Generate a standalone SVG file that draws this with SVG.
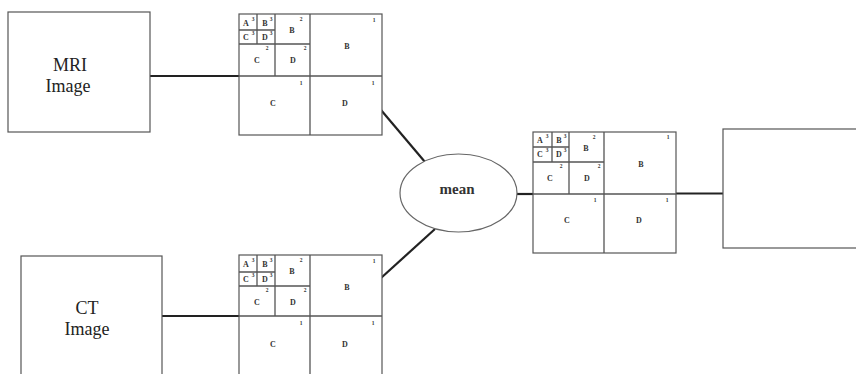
<svg xmlns="http://www.w3.org/2000/svg" width="856" height="374" viewBox="0 0 856 374">
<style>
.box{fill:#fff;stroke:#555;stroke-width:1.2}
.grid{fill:none;stroke:#555;stroke-width:1.3}
.conn{stroke:#222;stroke-width:2.2;fill:none}
.big{font-family:"Liberation Serif",serif;font-size:18px;fill:#222;text-anchor:middle}
.mean{font-family:"Liberation Serif",serif;font-size:15px;fill:#333;text-anchor:middle;font-weight:bold}
.lt{font-family:"Liberation Serif",serif;font-size:8px;fill:#333;text-anchor:middle;font-weight:bold}
.sup{font-family:"Liberation Serif",serif;font-size:5.5px;fill:#333;text-anchor:middle;font-weight:bold}
</style>
<rect width="856" height="374" fill="#fff"/>
<g id="connectors">
<line class="conn" x1="150" y1="76" x2="239" y2="76"/>
<line class="conn" x1="162" y1="316" x2="239" y2="316"/>
<line class="conn" x1="381" y1="110" x2="425" y2="162"/>
<line class="conn" x1="381" y1="278" x2="435" y2="229"/>
<line class="conn" x1="517" y1="194" x2="533" y2="194"/>
<line class="conn" x1="676" y1="193.5" x2="723" y2="193.5"/>
</g>
<g id="mri">
<rect class="box" x="8" y="12" width="142" height="120"/>
<text class="big" x="70" y="71">MRI</text>
<text class="big" x="68" y="92">Image</text>
</g>
<g id="ct">
<rect class="box" x="21" y="256" width="141" height="130"/>
<text class="big" x="87" y="314">CT</text>
<text class="big" x="87" y="335">Image</text>
</g>
<g id="mean">
<ellipse cx="458.5" cy="193" rx="58.5" ry="39" fill="#fff" stroke="#666" stroke-width="1.2"/>
<text class="mean" x="457" y="194">mean</text>
</g>
<g id="output">
<rect class="box" x="723" y="129" width="140" height="119"/>
</g>
<g id="quadtree-mri" transform="translate(239,14)">
<rect class="box" x="0" y="0" width="143" height="121"/>
<path class="grid" d="M71 0V121M0 62H143M36 0V62M0 30H71M18 0V30M0 16H36"/>
<text class="lt" x="108" y="35">B</text><text class="sup" x="135" y="8">1</text>
<text class="lt" x="34" y="92">C</text><text class="sup" x="62" y="71">1</text>
<text class="lt" x="106" y="92">D</text><text class="sup" x="134" y="71">1</text>
<text class="lt" x="53" y="19">B</text><text class="sup" x="62" y="7">2</text>
<text class="lt" x="18" y="49">C</text><text class="sup" x="28" y="36">2</text>
<text class="lt" x="54" y="49">D</text><text class="sup" x="66" y="36">2</text>
<text class="lt" x="7" y="12">A</text><text class="sup" x="14" y="7">3</text>
<text class="lt" x="26" y="12">B</text><text class="sup" x="32" y="7">3</text>
<text class="lt" x="7" y="26">C</text><text class="sup" x="14" y="21">3</text>
<text class="lt" x="26" y="26">D</text><text class="sup" x="32" y="21">3</text>
</g>
<g id="quadtree-ct" transform="translate(239,255)">
<rect class="box" x="0" y="0" width="143" height="123"/>
<path class="grid" d="M71 0V123M0 61H143M36 0V61M0 31H71M18 0V31M0 17H36"/>
<text class="lt" x="108" y="35">B</text><text class="sup" x="135" y="8">1</text>
<text class="lt" x="34" y="92">C</text><text class="sup" x="62" y="70">1</text>
<text class="lt" x="106" y="92">D</text><text class="sup" x="134" y="70">1</text>
<text class="lt" x="53" y="19">B</text><text class="sup" x="62" y="7">2</text>
<text class="lt" x="18" y="50">C</text><text class="sup" x="28" y="37">2</text>
<text class="lt" x="54" y="50">D</text><text class="sup" x="66" y="37">2</text>
<text class="lt" x="7" y="12">A</text><text class="sup" x="14" y="7">3</text>
<text class="lt" x="26" y="12">B</text><text class="sup" x="32" y="7">3</text>
<text class="lt" x="7" y="27">C</text><text class="sup" x="14" y="22">3</text>
<text class="lt" x="26" y="27">D</text><text class="sup" x="32" y="22">3</text>
</g>
<g id="quadtree-fused" transform="translate(533,132)">
<rect class="box" x="0" y="0" width="143" height="121"/>
<path class="grid" d="M71 0V121M0 62H143M36 0V62M0 30H71M19 0V30M0 15H36"/>
<text class="lt" x="108" y="35">B</text><text class="sup" x="135" y="7">1</text>
<text class="lt" x="34" y="91">C</text><text class="sup" x="62" y="70">1</text>
<text class="lt" x="106" y="91">D</text><text class="sup" x="134" y="70">1</text>
<text class="lt" x="53" y="19">B</text><text class="sup" x="61" y="7">2</text>
<text class="lt" x="17" y="49">C</text><text class="sup" x="28" y="36">2</text>
<text class="lt" x="54" y="49">D</text><text class="sup" x="66" y="36">2</text>
<text class="lt" x="7" y="11">A</text><text class="sup" x="14" y="6">3</text>
<text class="lt" x="26" y="11">B</text><text class="sup" x="32" y="6">3</text>
<text class="lt" x="7" y="25">C</text><text class="sup" x="14" y="20">3</text>
<text class="lt" x="26" y="25">D</text><text class="sup" x="32" y="20">3</text>
</g>
</svg>
